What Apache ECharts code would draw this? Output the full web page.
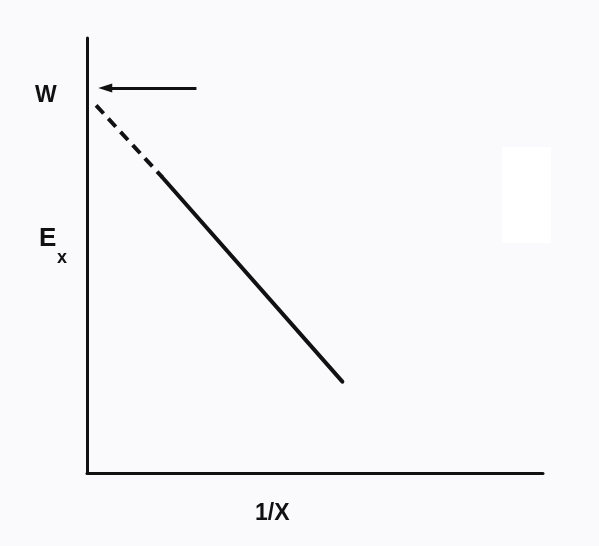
<!DOCTYPE html>
<html>
<head>
<meta charset="utf-8">
<script src="https://cdn.jsdelivr.net/npm/echarts@6/dist/echarts.min.js"></script>
<style>
  html, body { margin: 0; padding: 0; background: #fafafc; }
  #chart { width: 599px; height: 546px; }
</style>
</head>
<body>
<div id="chart"></div>
<script>
// Extrapolated segment (dashed) of E_x vs 1/X, running back to the axis at W
const extrapolated = [[0.2, 8.45], [1.65, 6.8]];
// Measured segment (solid)
const measured = [[1.65, 6.8], [5.6, 2.1]];
// Arrow pointing at the intercept W
const arrowFrom = [2.4, 8.85];
const arrowTo = [0.4, 8.85];

const chart = echarts.init(document.getElementById('chart'), null, { renderer: 'canvas' });

const ink = '#111111';
const font = 'Liberation Sans, Arial, sans-serif';

chart.setOption({
  backgroundColor: '#fafafc',
  animation: false,
  grid: { left: 87, right: 56, top: 38, bottom: 73 },
  xAxis: {
    type: 'value', min: 0, max: 10,
    axisLine: { show: true, onZero: false, lineStyle: { color: ink, width: 3 } },
    axisTick: { show: false }, axisLabel: { show: false }, splitLine: { show: false }
  },
  yAxis: {
    type: 'value', min: 0, max: 10,
    axisLine: { show: true, onZero: false, lineStyle: { color: ink, width: 3 } },
    axisTick: { show: false }, axisLabel: { show: false }, splitLine: { show: false }
  },
  graphic: [
    { type: 'rect', shape: { x: 502, y: 147, width: 49, height: 96 }, style: { fill: '#ffffff' }, z: -1 },
    { type: 'text', left: 35, top: 84,
      style: { text: 'W', fill: ink, font: 'bold 23px ' + font } },
    { type: 'text', left: 39, top: 226,
      style: { text: 'E', fill: ink, font: 'bold 26px ' + font } },
    { type: 'text', left: 57, top: 249,
      style: { text: 'x', fill: ink, font: 'bold 18px ' + font } },
    { type: 'text', left: 255, top: 502,
      style: { text: '1/X', fill: ink, font: 'bold 23px ' + font } }
  ],
  series: [
    {
      type: 'line', data: extrapolated, showSymbol: false, symbol: 'none',
      lineStyle: { color: ink, width: 4, type: [11, 7], cap: 'butt' },
      silent: true
    },
    {
      type: 'line', data: measured, showSymbol: false, symbol: 'none',
      lineStyle: { color: ink, width: 4, cap: 'round' },
      silent: true,
      markLine: {
        silent: true,
        symbol: ['none', 'triangle'],
        symbolSize: [9, 14],
        label: { show: false },
        lineStyle: { color: ink, width: 3, type: 'solid' },
        data: [[{ coord: arrowFrom }, { coord: arrowTo }]]
      }
    }
  ]
});
</script>
</body>
</html>
